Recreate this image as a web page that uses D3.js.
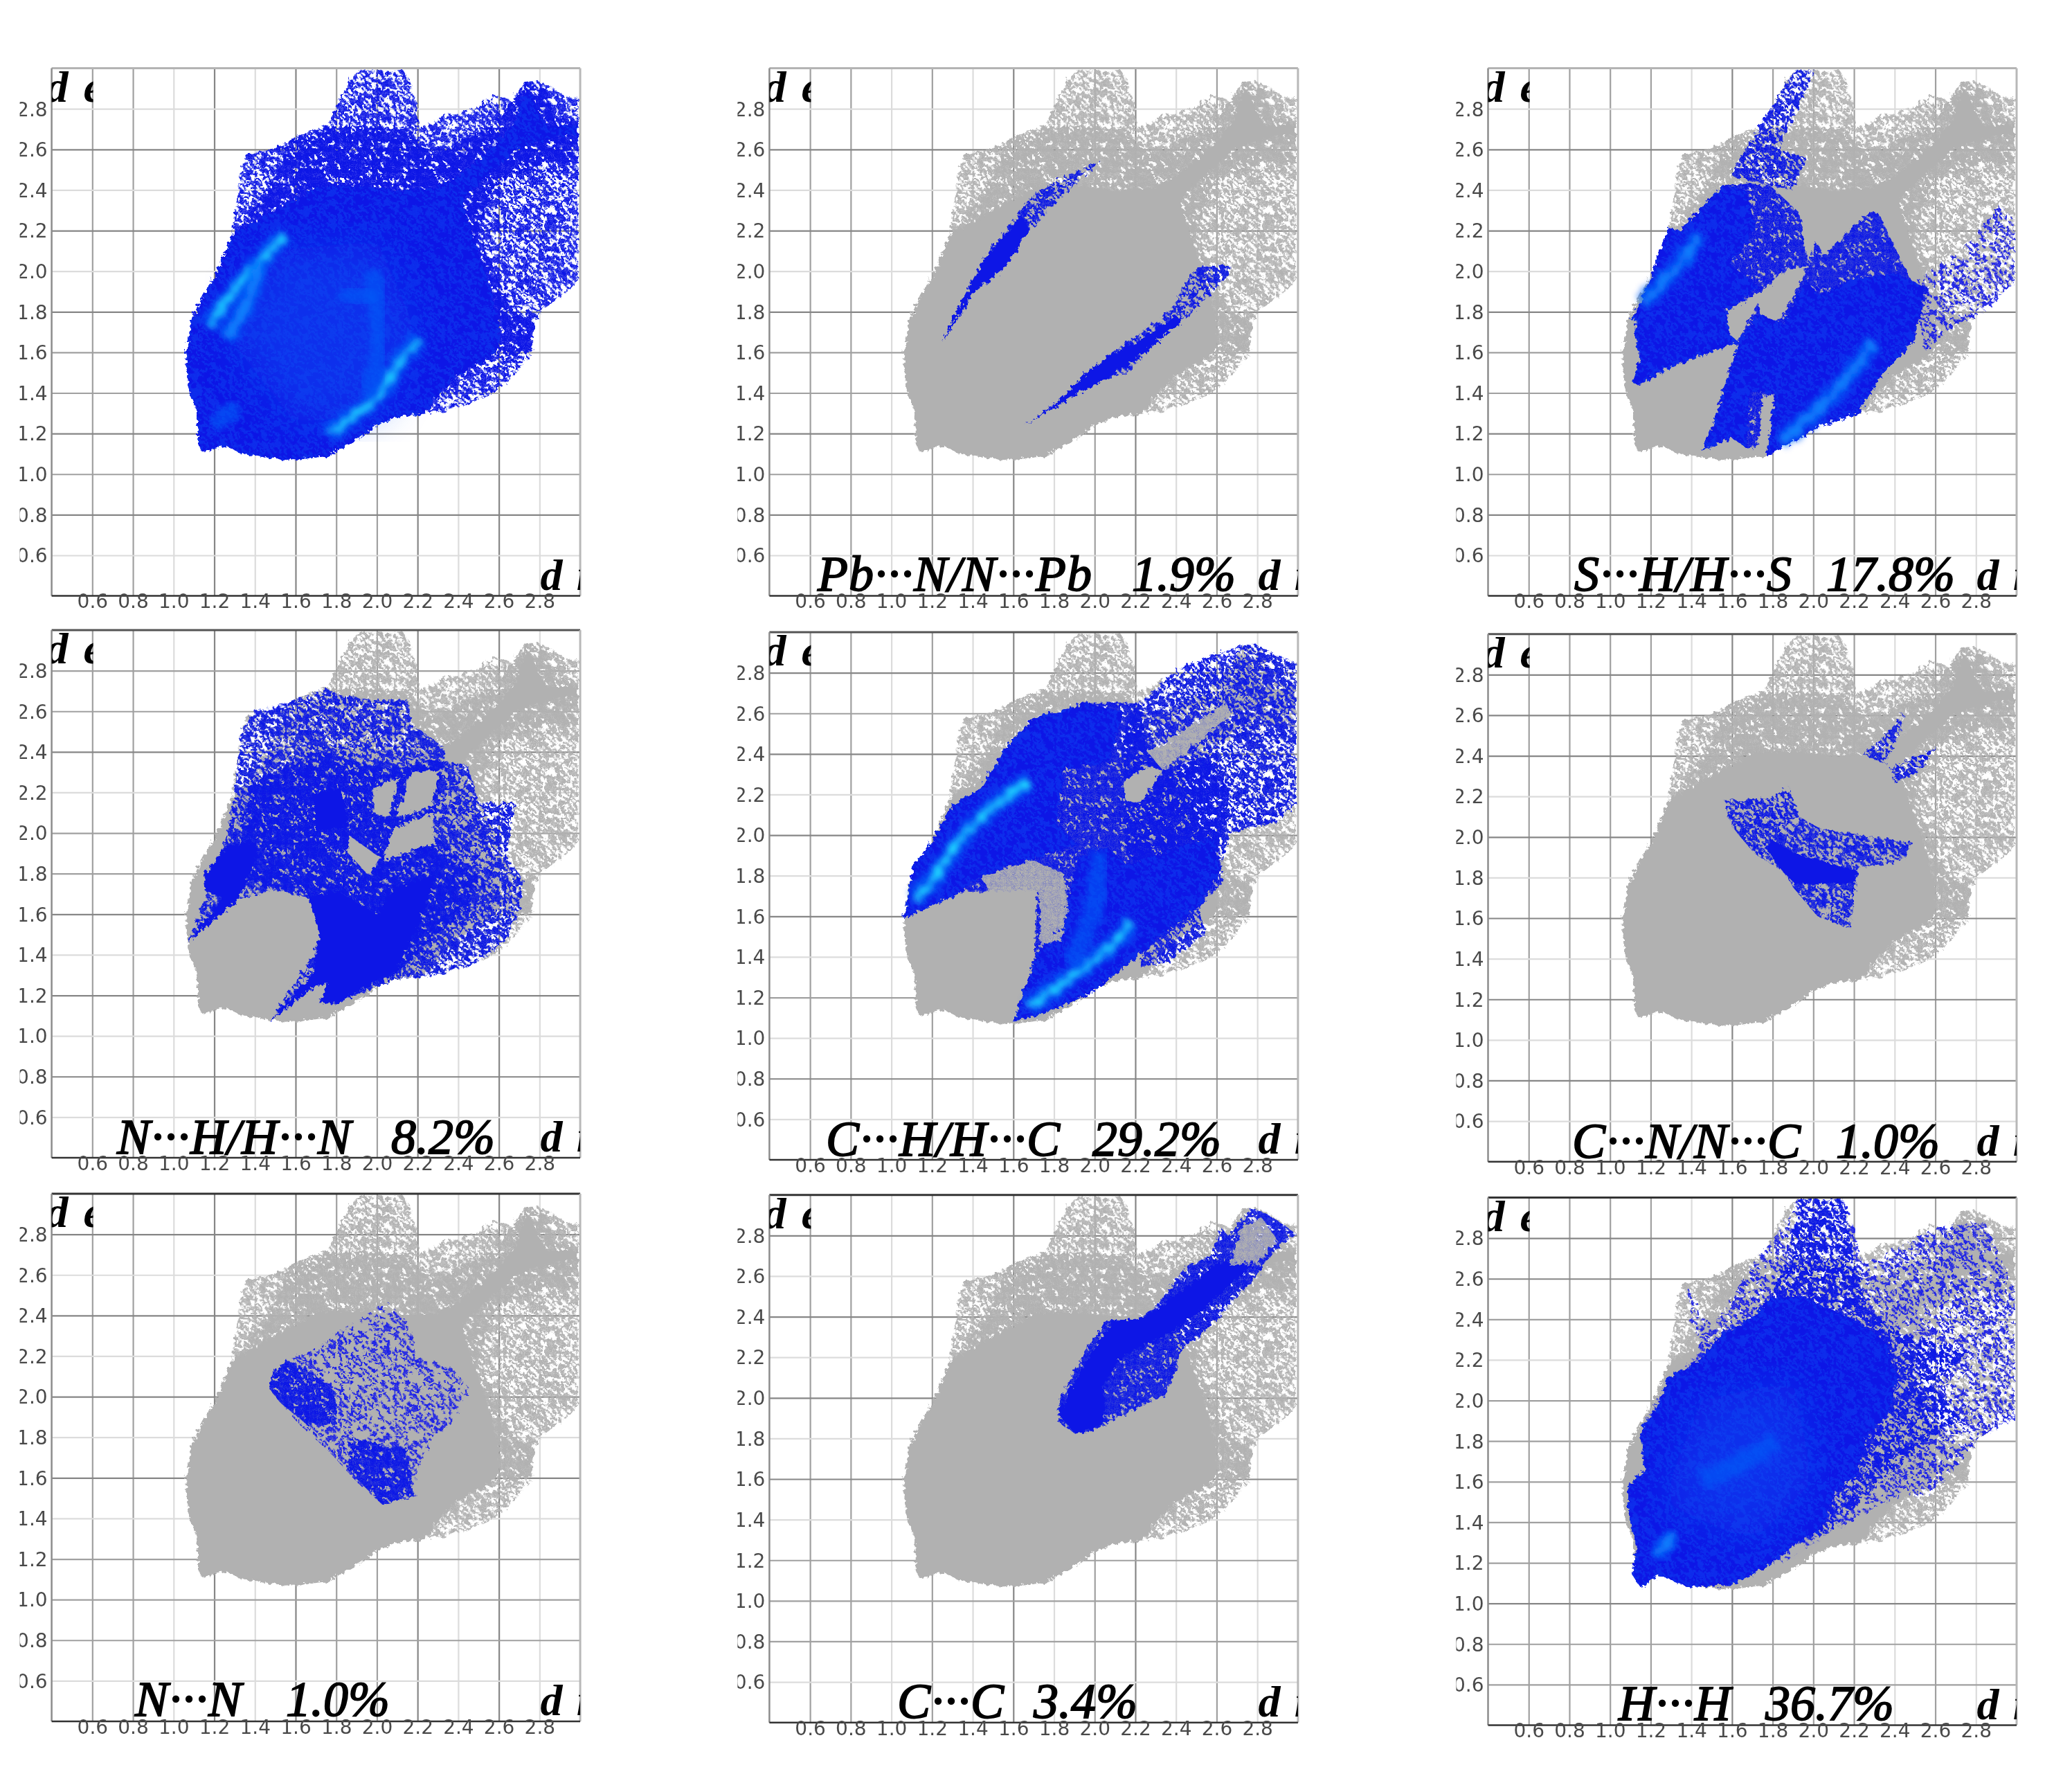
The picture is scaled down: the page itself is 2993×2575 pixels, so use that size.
<!DOCTYPE html>
<html lang="en">
<head>
<meta charset="utf-8">
<title>Fingerprint plots</title>
<script src="https://d3js.org/d3.v7.min.js"></script>
<style>
  body { margin: 0; background: #fff; }
</style>
</head>
<body>
<div id="chart"></div>
<script>
// tick values on both axes (d_i across, d_e up)
const tickValues = [0.6, 0.8, 1.0, 1.2, 1.4, 1.6, 1.8, 2.0, 2.2, 2.4, 2.6, 2.8];

// captions
const formulas = ["", "Pb···N/N···Pb", "S···H/H···S", "N···H/H···N", "C···H/H···C", "C···N/N···C", "N···N", "C···C", "H···H"];
const percents = ["", "1.9%", "17.8%", "8.2%", "29.2%", "1.0%", "1.0%", "3.4%", "36.7%"];

// outlines, as [d_i, d_e]
// the whole Hirshfeld cloud, grey in every panel but the first
const hullOutline = [[1.12,1.15],[1.14,1.11],[1.26,1.14],[1.335,1.10],[1.47,1.08],[1.60,1.07],[1.76,1.09],[1.90,1.17],[2.02,1.25],[2.09,1.28],[2.21,1.295],[2.33,1.31],[2.44,1.34],[2.56,1.395],[2.68,1.49],[2.76,1.60],[2.775,1.74],[2.81,1.805],[2.95,1.91],[2.99,1.96],[2.99,2.855],[2.93,2.86],[2.86,2.91],[2.775,2.94],[2.73,2.93],[2.66,2.845],[2.58,2.87],[2.50,2.81],[2.35,2.77],[2.26,2.72],[2.21,2.70],[2.19,2.84],[2.16,2.945],[2.13,2.99],[1.91,2.99],[1.86,2.93],[1.80,2.82],[1.76,2.72],[1.685,2.69],[1.57,2.645],[1.49,2.60],[1.355,2.58],[1.325,2.45],[1.30,2.29],[1.28,2.16],[1.22,2.015],[1.14,1.87],[1.09,1.77],[1.06,1.59],[1.07,1.43],[1.12,1.285]];
const hullMid = [[2.21,1.295],[2.29,1.45],[2.44,1.54],[2.56,1.63],[2.68,1.58],[2.76,1.61],[2.775,1.74],[2.66,1.815],[2.58,2.0],[2.50,2.18],[2.56,2.40],[2.70,2.49],[2.87,2.545],[2.99,2.53],[2.99,2.73],[2.87,2.76],[2.83,2.90],[2.73,2.93],[2.62,2.76],[2.48,2.67],[2.29,2.58],[2.20,2.64],[2.17,2.70],[1.80,2.72],[1.685,2.69],[1.57,2.64],[1.51,2.49],[1.355,2.25],[1.28,2.16],[1.40,1.8]];
const hullCore = [[1.12,1.15],[1.14,1.11],[1.26,1.14],[1.335,1.10],[1.47,1.08],[1.60,1.07],[1.76,1.09],[1.90,1.17],[2.02,1.25],[2.09,1.28],[2.21,1.295],[2.26,1.33],[2.31,1.40],[2.405,1.49],[2.54,1.56],[2.60,1.62],[2.60,1.75],[2.56,1.90],[2.50,2.08],[2.44,2.28],[2.42,2.36],[2.54,2.47],[2.68,2.60],[2.87,2.66],[2.99,2.68],[2.99,2.72],[2.83,2.72],[2.76,2.87],[2.73,2.90],[2.68,2.74],[2.54,2.58],[2.40,2.47],[2.29,2.41],[2.10,2.40],[1.90,2.42],[1.72,2.42],[1.55,2.33],[1.41,2.25],[1.30,2.19],[1.28,2.16],[1.22,2.015],[1.14,1.87],[1.09,1.77],[1.06,1.59],[1.07,1.43],[1.12,1.285]];

// Pb...N/N...Pb
const pbnUpperTip = [[1.25,1.65],[1.365,1.89],[1.46,2.07],[1.58,2.20],[1.64,2.28],[1.68,2.20],[1.54,2.00],[1.40,1.89]];
const pbnUpperRest = [[1.25,1.65],[1.365,1.89],[1.46,2.07],[1.56,2.20],[1.68,2.36],[1.81,2.45],[2.035,2.545],[1.95,2.47],[1.81,2.34],[1.68,2.20],[1.54,2.00],[1.40,1.89]];
const pbnLowerTip = [[1.655,1.24],[1.81,1.35],[1.97,1.51],[2.065,1.58],[2.22,1.66],[2.40,1.78],[2.435,1.76],[2.26,1.61],[2.065,1.47],[1.91,1.395],[1.755,1.30]];
const pbnLowerRest = [[1.655,1.24],[1.81,1.35],[1.97,1.51],[2.065,1.58],[2.22,1.69],[2.375,1.815],[2.475,1.98],[2.53,2.03],[2.67,2.03],[2.66,1.98],[2.59,1.905],[2.435,1.76],[2.26,1.61],[2.17,1.505],[2.065,1.47],[1.91,1.395],[1.755,1.30]];

// S...H/H...S
const shTopStreak = [[1.595,2.47],[1.73,2.71],[1.91,2.99],[2.01,2.99],[1.83,2.6],[1.965,2.56],[1.905,2.40],[1.79,2.42]];
const shRightSpeckle = [[2.49,1.94],[2.74,2.11],[2.92,2.33],[2.99,2.25],[2.99,1.94],[2.84,1.80],[2.685,1.72],[2.55,1.61]];
const shFanMid = [[1.10,1.76],[1.17,1.89],[1.285,2.215],[1.34,2.2],[1.555,2.42],[1.67,2.435],[1.79,2.42],[1.93,2.29],[1.975,2.03],[1.85,2.0],[1.75,1.905],[1.595,1.815],[1.42,1.79],[1.245,1.78]];
const shFanDense = [[1.10,1.76],[1.17,1.89],[1.285,2.215],[1.34,2.2],[1.555,2.42],[1.67,2.40],[1.715,2.215],[1.595,2.03],[1.73,1.925],[1.595,1.815],[1.42,1.79],[1.245,1.78]];
const shBand = [[1.13,1.80],[1.575,1.81],[1.585,1.69],[1.635,1.65],[1.44,1.58],[1.265,1.51],[1.15,1.44],[1.11,1.45],[1.15,1.56],[1.12,1.69]];
const shBodyMid = [[1.45,1.11],[1.50,1.23],[1.575,1.47],[1.635,1.67],[1.73,1.85],[1.75,1.69],[1.85,1.78],[1.945,1.96],[2.015,2.14],[2.055,2.08],[2.18,2.20],[2.28,2.29],[2.325,2.28],[2.39,2.14],[2.49,1.94],[2.57,1.92],[2.49,1.65],[2.335,1.49],[2.22,1.30],[2.02,1.23],[1.87,1.14],[1.77,1.09],[1.79,1.25],[1.81,1.395],[1.75,1.38],[1.73,1.14],[1.67,1.13],[1.595,1.18]];
const shBodyDense = [[1.45,1.11],[1.50,1.23],[1.575,1.47],[1.635,1.67],[1.73,1.79],[1.85,1.74],[1.965,1.96],[2.025,1.88],[2.18,1.96],[2.41,1.99],[2.55,1.92],[2.49,1.65],[2.335,1.49],[2.22,1.30],[2.02,1.23],[1.87,1.14],[1.77,1.09],[1.81,1.395],[1.69,1.41],[1.67,1.13],[1.595,1.18]];
const shStreakUpper = [[1.16,1.84],[1.325,2.015],[1.44,2.18]];
const shStreakLower = [[1.84,1.16],[1.945,1.25],[2.10,1.395],[2.30,1.65]];

// N...H/H...N
const nhOuter = [[1.07,1.46],[1.20,1.79],[1.27,2.02],[1.30,2.225],[1.335,2.50],[1.395,2.60],[1.57,2.645],[1.755,2.71],[1.82,2.68],[1.98,2.655],[2.15,2.655],[2.17,2.535],[2.33,2.425],[2.33,2.355],[2.445,2.335],[2.50,2.15],[2.68,2.15],[2.64,1.88],[2.72,1.77],[2.70,1.62],[2.64,1.48],[2.48,1.35],[2.29,1.30],[2.09,1.28],[2.00,1.24],[1.80,1.16],[1.715,1.16],[1.76,1.26],[1.685,1.24],[1.47,1.07],[1.59,1.26],[1.685,1.39],[1.72,1.50],[1.715,1.58],[1.665,1.68],[1.60,1.71],[1.51,1.72],[1.40,1.70],[1.315,1.67]];
const nhBody = [[1.30,1.80],[1.38,2.25],[1.70,2.40],[2.05,2.32],[2.33,2.36],[2.27,2.0],[2.50,1.80],[2.45,1.62],[2.29,1.50],[2.09,1.30],[1.80,1.20],[1.72,1.50],[1.665,1.68],[1.51,1.72]];
const nhFan = [[1.07,1.46],[1.24,1.68],[1.16,1.71],[1.15,1.79],[1.26,1.94],[1.41,1.95],[1.39,1.82],[1.315,1.67]];
const nhLower = [[1.47,1.07],[1.685,1.31],[1.72,1.50],[1.665,1.68],[1.80,1.715],[2.00,1.60],[2.09,1.73],[2.29,1.79],[2.21,1.55],[2.09,1.32],[1.80,1.16],[1.715,1.16],[1.76,1.26],[1.685,1.24]];
const nhCentre = [[1.685,2.19],[1.82,2.225],[1.86,2.04],[1.705,2.005]];
const nhHoleA = [[1.98,2.21],[2.11,2.28],[2.055,2.08],[1.98,2.10]];
const nhHoleB = [[2.17,2.30],[2.31,2.31],[2.27,2.13],[2.095,2.08]];
const nhHoleC = [[2.075,2.02],[2.28,2.10],[2.28,1.95],[2.035,1.86]];
const nhHoleD = [[1.86,1.99],[2.015,1.88],[1.96,1.79],[1.86,1.90]];

// C...H/H...C
const chSparse = [[2.22,2.65],[2.32,2.74],[2.395,2.81],[2.57,2.885],[2.765,2.95],[2.99,2.85],[2.99,2.155],[2.90,2.065],[2.67,2.01],[2.61,1.81],[2.51,1.63],[2.55,1.52],[2.36,1.37],[2.22,1.35],[2.26,1.48],[2.14,1.99],[2.14,2.54]];
const chMid = [[1.06,1.59],[1.11,1.85],[1.21,1.99],[1.305,2.155],[1.44,2.23],[1.56,2.43],[1.695,2.575],[1.95,2.65],[2.22,2.65],[2.26,2.41],[2.335,2.32],[2.55,2.39],[2.67,2.21],[2.61,1.955],[2.63,1.77],[2.51,1.645],[2.30,1.48],[2.20,1.39],[1.99,1.225],[1.79,1.135],[1.60,1.08],[1.705,1.39],[1.715,1.73],[1.345,1.72],[1.19,1.645]];
const chFan = [[1.06,1.59],[1.11,1.85],[1.21,1.99],[1.305,2.155],[1.44,2.23],[1.56,2.43],[1.695,2.575],[1.95,2.65],[2.14,2.61],[2.07,2.36],[1.85,2.32],[1.81,2.06],[1.91,1.955],[1.755,1.90],[1.56,1.845],[1.40,1.77],[1.345,1.72],[1.19,1.645]];
const chBody = [[1.60,1.08],[1.705,1.39],[1.85,1.63],[1.93,1.90],[2.065,1.94],[2.16,1.85],[2.45,1.955],[2.59,1.99],[2.61,1.81],[2.51,1.645],[2.30,1.48],[2.20,1.39],[1.99,1.225],[1.79,1.135]];
const chGreyBand = [[2.26,2.41],[2.65,2.65],[2.67,2.595],[2.335,2.32]];
const chGreyPatch = [[2.14,2.265],[2.26,2.34],[2.335,2.32],[2.22,2.155],[2.155,2.17]];
const chGreySpeckle = [[1.44,1.79],[1.69,1.88],[1.85,1.81],[1.87,1.63],[1.83,1.48],[1.735,1.46],[1.725,1.72],[1.49,1.72]];
const chStreakUpper = [[1.12,1.68],[1.21,1.79],[1.365,2.01],[1.52,2.155],[1.68,2.265]];
const chStreakLower = [[1.68,1.15],[1.755,1.21],[1.91,1.32],[2.07,1.445],[2.18,1.57]];
const chStreakMiddle = [[2.03,1.92],[1.99,1.63],[1.88,1.36]];

// C...N/N...C
const cnMain = [[1.56,2.18],[1.79,2.19],[1.88,2.25],[1.93,2.10],[2.04,2.04],[2.49,1.97],[2.43,1.88],[2.22,1.85],[2.18,1.57],[2.19,1.545],[2.02,1.61],[1.91,1.74],[1.85,1.83],[1.71,1.92],[1.60,2.05]];
const cnCore = [[1.77,1.94],[1.79,1.99],[1.91,1.92],[2.22,1.83],[2.18,1.77],[1.91,1.77],[1.85,1.83]];
const cnUpperA = [[2.45,2.61],[2.41,2.48],[2.355,2.36],[2.24,2.41],[2.335,2.48]];
const cnUpperB = [[2.61,2.44],[2.51,2.32],[2.40,2.265],[2.375,2.34]];

// N...N
const nnOuter = [[2.055,2.465],[2.17,2.35],[2.19,2.20],[2.365,2.15],[2.455,2.04],[2.365,1.87],[2.27,1.80],[2.19,1.62],[2.19,1.51],[2.025,1.47],[1.90,1.58],[1.765,1.73],[1.61,1.87],[1.47,2.04],[1.49,2.11],[1.55,2.18],[1.685,2.22],[1.80,2.31]];
const nnLeft = [[1.48,2.10],[1.55,2.18],[1.665,2.13],[1.80,2.02],[1.80,1.87],[1.665,1.855],[1.53,1.965],[1.47,2.04]];
const nnLower = [[1.86,1.80],[2.15,1.745],[2.18,1.51],[2.025,1.47],[1.86,1.635]];

// C...C
const ccOuter = [[1.82,1.88],[1.91,1.82],[2.005,1.845],[2.18,1.935],[2.34,2.01],[2.40,2.14],[2.415,2.23],[2.57,2.355],[2.80,2.61],[2.90,2.74],[2.99,2.81],[2.92,2.86],[2.84,2.91],[2.765,2.93],[2.72,2.87],[2.66,2.795],[2.62,2.84],[2.575,2.70],[2.455,2.65],[2.30,2.45],[2.205,2.385],[2.065,2.385],[1.95,2.23],[1.83,1.99]];
const ccInner = [[1.82,1.92],[1.91,1.82],[2.045,1.875],[2.045,2.065],[2.14,2.21],[2.34,2.30],[2.55,2.45],[2.815,2.685],[2.725,2.67],[2.61,2.665],[2.49,2.575],[2.24,2.395],[2.085,2.375],[1.91,2.10]];
const ccGap = [[2.66,2.655],[2.725,2.85],[2.82,2.89],[2.90,2.775],[2.80,2.66]];

// H...H
const hhSparse = [[1.85,1.20],[2.10,1.36],[2.37,1.51],[2.57,1.53],[2.76,1.745],[2.82,1.82],[2.99,1.91],[2.99,2.55],[2.84,2.88],[2.61,2.86],[2.41,2.75],[2.24,2.675],[2.20,2.86],[2.15,2.995],[1.93,2.995],[1.81,2.80],[1.73,2.71],[1.50,2.365],[1.38,2.565],[1.40,2.365],[1.44,2.24],[1.285,2.07],[1.21,1.965],[1.15,1.855]];
const hhLobe = [[1.86,2.6],[1.93,2.995],[2.15,2.995],[2.2,2.7],[2.22,2.6]];
const hhMid = [[1.79,2.51],[1.85,2.66],[2.22,2.66],[2.26,2.46],[2.43,2.33],[2.76,2.24],[2.59,2.07],[2.725,1.91],[2.57,1.82],[2.43,1.67],[2.26,1.545],[2.10,1.36],[1.91,1.29],[2.10,1.9]];
const hhCore = [[1.15,1.855],[1.17,1.655],[1.09,1.58],[1.09,1.45],[1.13,1.27],[1.11,1.14],[1.15,1.08],[1.245,1.14],[1.38,1.08],[1.595,1.09],[1.77,1.18],[1.91,1.29],[2.045,1.36],[2.10,1.545],[2.22,1.64],[2.26,1.82],[2.37,1.93],[2.41,2.11],[2.355,2.29],[2.20,2.40],[1.945,2.51],[1.79,2.51],[1.715,2.42],[1.555,2.33],[1.44,2.20],[1.285,2.11],[1.225,1.965]];
const hhStreak = [[1.22,1.23],[1.32,1.345]];
const hhGlow = [[1.45,1.60],[1.635,1.69],[1.82,1.80]];
const hhWash = [[1.25,1.5],[1.45,2.0],[1.9,2.1],[2.0,1.6],[1.7,1.3]];

// bright ridges of the full plot
const allRidgeA = [[1.17,1.73],[1.26,1.85],[1.395,2.015],[1.55,2.18]];
const allRidgeB = [[1.26,1.67],[1.355,1.83],[1.43,2.05]];
const allRidgeC = [[1.76,1.2],[1.86,1.27],[2.015,1.395],[2.09,1.525],[2.21,1.67]];
const allRidgeD = [[1.98,2.0],[2.015,1.74],[2.015,1.58],[1.94,1.395]];
const allRidgeE = [[1.2,1.23],[1.315,1.34]];
const allRidgeF = [[1.82,1.905],[1.995,1.85]];
const allWash = [[1.25,1.7],[1.5,2.1],[2.0,2.15],[2.2,1.7],[2.0,1.3],[1.6,1.25]];

// panel contents: which outline gets which density of blue
const panels = [
  { layers: [["fleck",hullCore]], ridges: [[allRidgeA,3],[allRidgeB,2],[allRidgeC,3],[allRidgeD,1],[allRidgeE,1],[allRidgeF,1]], wash: allWash },
  { layers: [["sparse",pbnUpperRest],["sparse",pbnLowerRest],["solid",pbnUpperTip],["solid",pbnLowerTip]], ridges: [] },
  { layers: [["sparse",shTopStreak],["faint",shRightSpeckle],["mid",shFanMid],["mid",shBodyMid],["solid",shFanDense],["solid",shBand],["solid",shBodyDense],["fleck",shFanDense],["fleck",shBand],["fleck",shBodyDense]], ridges: [[shStreakUpper,2],[shStreakLower,2]] },
  { layers: [["sparse",nhOuter],["mid",nhBody],["solid",nhFan],["solid",nhLower],["solid",nhCentre],["grey",nhHoleA],["grey",nhHoleB],["grey",nhHoleC],["grey",nhHoleD]], ridges: [] },
  { layers: [["sparse",chSparse],["mid",chMid],["solid",chFan],["solid",chBody],["fleck",chFan],["fleck",chBody],["greyMid",chGreyBand],["grey",chGreyPatch],["greyMid",chGreySpeckle]], ridges: [[chStreakUpper,3],[chStreakLower,3],[chStreakMiddle,1]] },
  { layers: [["sparse",cnMain],["sparse",cnUpperA],["sparse",cnUpperB],["solid",cnCore]], ridges: [] },
  { layers: [["faint",nnOuter],["mid",nnLeft],["mid",nnLower]], ridges: [] },
  { layers: [["mid",ccOuter],["solid",ccInner],["greyMid",ccGap]], ridges: [] },
  { layers: [["faint",hhSparse],["sparse",hhLobe],["sparse",hhMid],["solid",hhCore],["fleck",hhCore]], ridges: [[hhStreak,2],[hhGlow,1]], wash: hhWash }
];

// page layout, in px
const plotW = 763.5, plotH = 762;
const lefts = [74.6, 1111.4, 2149.5];
const tops = [98.6, 98.6, 98.6, 910, 913, 915.7, 1724, 1725.7, 1729.5];
const formulaX = [0, 1181, 2274, 169, 1193, 2271, 195, 1296, 2338];
const percentX = [0, 1635, 2638, 565, 1578, 2652, 413, 1493, 2550];
const baseGap = [0, 8, 8, 6, 6, 6, 8, 7, 8];

// grid line darkness: d dark, m medium, l light
const gridCols = ["mmldldmmdldl", "mmlmldlmdlml", "mmmmldmmmlml"];
const gridRows = ["ldldldmmdmdl", "ldldldmmdmdl", "ldldldmmdmdl", "mmdlmmdldldl", "dmdldldlmldl", "dddldldldldl", "dldldldlmmml", "dldldldlmmml", "ddmlmmmmmdmm"];
const gridColour = { d: "#868686", m: "#a0a0a0", l: "#dcdcdc" };
const topColour = ["#b4b4b4", "#b4b4b4", "#b4b4b4", "#555", "#555", "#555", "#333", "#333", "#333"];

const BLUE = "#0a18e6", GREY = "#b1b1b1";

const x = d3.scaleLinear().domain([0.4, 3.0]).range([0, plotW]);
const y = d3.scaleLinear().domain([0.4, 3.0]).range([plotH, 0]);
const outline = d3.line().x(d => x(d[0])).y(d => y(d[1]));
const ridgeLine = d3.line().x(d => x(d[0])).y(d => y(d[1])).curve(d3.curveCatmullRom);

const svg = d3.select("#chart").append("svg")
  .attr("width", 2993)
  .attr("height", 2575)
  .style("display", "block");
const defs = svg.append("defs");

// dither tile for the speckled parts of the cloud: a cell is drawn when its value is under the cut
const tile = [
"382910475628193047562813","619274038516729403851672","074835192640378215964027","925160847392051768430195",
"483729015864293017586342","160548372910645832079185","739216084573182960435718","251873906142758390162847",
"806431752908364175290346","347095128673910528647013","912768340251687043192586","568103924785032619847250",
"035492781360947152738604","794126503819265087341972","128670495237584910623458","650983217465019382756091",
"473251869020836745190328","286107534961472053869714","917840263587391620485132","304569178124760938512670",
"845372096618253479037896","162938450397014826951243","590714683240578193264805","731026459876342501780169"];
const cell = 3.3, tileSize = 48;

function tileValue(r, k) {
  const fine = (+tile[r % 24][k % 24] * 3 + +tile[(r * 5 + 7) % 24][(k * 7 + 3) % 24]) % 10;
  const coarse = +tile[(r >> 2) % 24][(k >> 2) % 24];
  return fine + (coarse - 4.5) * 0.3;
}

function addPattern(id, colour, cut) {
  const p = defs.append("pattern").attr("id", id)
    .attr("patternUnits", "userSpaceOnUse")
    .attr("width", cell * tileSize).attr("height", cell * tileSize);
  d3.range(tileSize).forEach(r => d3.range(tileSize).forEach(k => {
    if (tileValue(r, k) < cut) p.append("rect").attr("x", k * cell).attr("y", r * cell)
      .attr("width", cell).attr("height", cell).attr("fill", colour);
  }));
}
addPattern("blueFaint", "#1c20e8", 3);
addPattern("blueSparse", BLUE, 6);
addPattern("blueMid", BLUE, 8.5);
addPattern("blueFleck", "#0a2eec", 4);
addPattern("greySparse", GREY, 6);
addPattern("greyMid", GREY, 8.5);

const fills = {
  faint: "url(#blueFaint)", sparse: "url(#blueSparse)", mid: "url(#blueMid)", solid: BLUE,
  fleck: "url(#blueFleck)", grey: GREY, greyMid: "url(#greyMid)"
};

// rough, slightly soft edges like the upscaled bitmap
const rough = defs.append("filter").attr("id", "rough")
  .attr("x", "-2%").attr("y", "-2%").attr("width", "104%").attr("height", "104%");
rough.append("feTurbulence").attr("type", "fractalNoise").attr("baseFrequency", 0.16)
  .attr("numOctaves", 3).attr("seed", 4).attr("result", "n");
rough.append("feDisplacementMap").attr("in", "SourceGraphic").attr("in2", "n")
  .attr("scale", 10).attr("result", "d");
rough.append("feGaussianBlur").attr("in", "d").attr("stdDeviation", 0.7);

// ridges: wobble them and blur, so they read as bright noise and not as tubes
const ridgeFx = defs.append("filter").attr("id", "ridgeFx")
  .attr("x", "-20%").attr("y", "-20%").attr("width", "140%").attr("height", "140%");
ridgeFx.append("feTurbulence").attr("type", "fractalNoise").attr("baseFrequency", 0.09)
  .attr("numOctaves", 2).attr("seed", 9).attr("result", "n");
ridgeFx.append("feDisplacementMap").attr("in", "SourceGraphic").attr("in2", "n")
  .attr("scale", 16).attr("result", "d");
ridgeFx.append("feGaussianBlur").attr("in", "d").attr("stdDeviation", 4);

defs.append("filter").attr("id", "wide").append("feGaussianBlur").attr("stdDeviation", 30);
defs.append("filter").attr("id", "textSoft").append("feGaussianBlur").attr("stdDeviation", 0.6);

panels.forEach((panel, i) => {
  const col = i % 3;
  const g = svg.append("g").attr("transform", `translate(${lefts[col]},${tops[i]})`);

  defs.append("clipPath").attr("id", `plot${i}`).append("rect")
    .attr("width", plotW).attr("height", plotH);
  defs.append("clipPath").attr("id", `ylab${i}`).append("rect")
    .attr("x", -46).attr("y", -10).attr("width", 46).attr("height", plotH + 20);
  defs.append("clipPath").attr("id", `corner${i}`).append("rect")
    .attr("x", 0).attr("y", 0).attr("width", 60).attr("height", 70);

  // grid: long axis ticks with no labels
  const gridX = g.append("g").attr("transform", `translate(0,${plotH})`)
    .call(d3.axisBottom(x).tickValues(tickValues).tickSize(-plotH).tickFormat(""));
  const gridY = g.append("g")
    .call(d3.axisLeft(y).tickValues(tickValues).tickSize(-plotW).tickFormat(""));
  gridX.select(".domain").remove();
  gridY.select(".domain").remove();
  gridX.selectAll(".tick line").attr("stroke", (d, k) => gridColour[gridCols[col][k]]).attr("stroke-width", 2.2);
  gridY.selectAll(".tick line").attr("stroke", (d, k) => gridColour[gridRows[i][tickValues.length - 1 - k]]).attr("stroke-width", 2.2);

  // the cloud
  const cloud = g.append("g").attr("clip-path", `url(#plot${i})`)
    .append("g").attr("filter", "url(#rough)");
  const base = i === 0
    ? { sparse: "url(#blueSparse)", mid: "url(#blueMid)", solid: BLUE }
    : { sparse: "url(#greySparse)", mid: "url(#greyMid)", solid: GREY };
  cloud.append("path").attr("d", outline(hullOutline) + "Z").attr("fill", base.sparse);
  cloud.append("path").attr("d", outline(hullMid) + "Z").attr("fill", base.mid);
  cloud.append("path").attr("d", outline(hullCore) + "Z").attr("fill", base.solid);

  panel.layers.forEach(([kind, pts]) => {
    cloud.append("path").attr("d", outline(pts) + "Z").attr("fill", fills[kind]);
  });

  const glow = g.append("g").attr("clip-path", `url(#plot${i})`);
  if (panel.wash) {
    glow.append("path").attr("d", outline(panel.wash) + "Z")
      .attr("fill", "#0a4cf2").attr("opacity", 0.5).attr("filter", "url(#wide)");
  }
  panel.ridges.forEach(([pts, level]) => {
    const d = ridgeLine(pts);
    const halo = glow.append("g").attr("fill", "none").attr("filter", "url(#ridgeFx)");
    halo.append("path").attr("d", d).attr("stroke", "#0a5cf6").attr("stroke-width", 28).attr("opacity", 0.6);
    if (level > 1) halo.append("path").attr("d", d).attr("stroke", "#0a8cff").attr("stroke-width", 12).attr("opacity", 0.8);
    if (level > 2) halo.append("path").attr("d", d).attr("stroke", "#22e4ff").attr("stroke-width", 5);
  });

  // frame
  const frame = g.append("g").attr("fill", "none");
  frame.append("line").attr("x1", 0).attr("x2", plotW).attr("y1", 0).attr("y2", 0).attr("stroke", topColour[i]).attr("stroke-width", 3);
  frame.append("line").attr("x1", 0).attr("x2", 0).attr("y1", 0).attr("y2", plotH).attr("stroke", "#8c8c8c").attr("stroke-width", 2.5);
  frame.append("line").attr("x1", plotW).attr("x2", plotW).attr("y1", 0).attr("y2", plotH).attr("stroke", "#b8b8b8").attr("stroke-width", 3);
  frame.append("line").attr("x1", 0).attr("x2", plotW).attr("y1", plotH).attr("y2", plotH).attr("stroke", "#333").attr("stroke-width", 2.5);

  // corner labels, cut by the frame like in the original
  const serif = "'Liberation Serif', serif";
  const corner = g.append("g").attr("font-family", serif).attr("font-style", "italic")
    .attr("font-weight", "bold").attr("font-size", 64).attr("fill", "#000");
  const cornerTop = corner.append("g").attr("clip-path", `url(#corner${i})`);
  cornerTop.append("text").attr("x", -8).attr("y", 48).text("d");
  cornerTop.append("text").attr("x", 46).attr("y", 48).text("e");
  const cornerBottom = corner.append("g").attr("clip-path", `url(#plot${i})`);
  cornerBottom.append("text").attr("x", 706).attr("y", plotH - 9).text("d");
  cornerBottom.append("text").attr("x", 758).attr("y", plotH - 9).text("i");

  // caption
  if (formulas[i]) {
    const cap = g.append("g").attr("font-family", serif).attr("font-style", "italic")
      .attr("font-size", 72).attr("fill", "#000").attr("stroke", "#000").attr("stroke-width", 1.8);
    cap.append("text").attr("x", formulaX[i] - lefts[col]).attr("y", plotH - baseGap[i])
      .attr("letter-spacing", 1).text(formulas[i]);
    cap.append("text").attr("x", percentX[i] - lefts[col]).attr("y", plotH - baseGap[i]).text(percents[i]);
  }

  // tick labels on top of everything; the crop of the original cuts the first digit on the y side
  const labelX = g.append("g").attr("transform", `translate(0,${plotH})`)
    .call(d3.axisBottom(x).tickValues(tickValues).tickSize(0).tickFormat(d3.format(".1f")));
  const labelY = g.append("g").attr("clip-path", `url(#ylab${i})`)
    .call(d3.axisLeft(y).tickValues(tickValues).tickSize(0).tickFormat(d3.format(".1f")));
  labelX.select(".domain").remove();
  labelY.select(".domain").remove();
  labelX.selectAll(".tick text").attr("y", 8).attr("dy", "0.35em");
  labelY.selectAll(".tick text").attr("x", -6).attr("dy", "0.35em");
  [labelX, labelY].forEach(a => a.selectAll(".tick text")
    .attr("font-family", "'DejaVu Sans'").attr("font-size", 28).attr("fill", "#4a4a4a")
    .attr("filter", "url(#textSoft)"));
});
</script>
</body>
</html>
